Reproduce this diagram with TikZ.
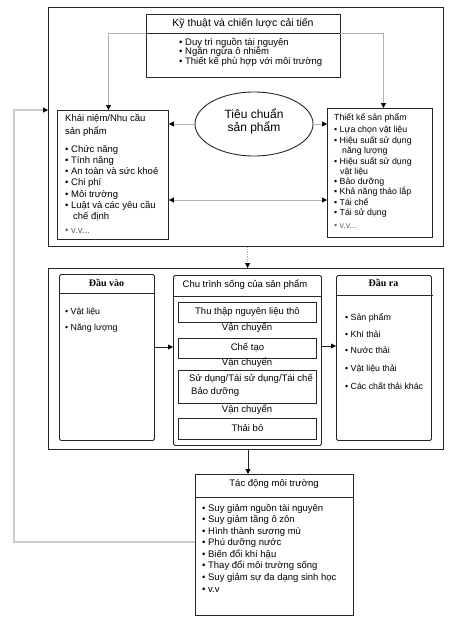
\documentclass[tikz,border=0pt]{standalone}
\usepackage{fontspec}
\setmainfont{Liberation Sans}
\newfontfamily\tnr{Liberation Serif}
\usetikzlibrary{arrows.meta,shapes.geometric}
\begin{document}
\begin{tikzpicture}[x=1pt,y=-1pt,
  outer/.style={draw=black!85, line width=1.2pt, inner sep=0, anchor=north west},
  box/.style={draw=black!85, line width=0.9pt, inner sep=0, anchor=north west},
  rbox/.style={box, rounded corners=1.5pt},
  sep/.style={draw=black!85, line width=0.9pt},
  item/.style={inner sep=0, anchor=west, text height=7pt, text depth=2pt, font=\fontsize{9.5}{11}\selectfont},
  itemS/.style={item, font=\fontsize{8.8}{10}\selectfont},
  ctext/.style={item, anchor=center},
  conn/.style={draw=black!30, line width=0.7pt},
  tip/.style={-{Triangle[length=5pt,width=5pt,color=black]}},
  tips/.style={{Triangle[length=5pt,width=5pt,color=black]}-{Triangle[length=5pt,width=5pt,color=black]}},
]
\useasboundingbox (0,0) rectangle (453,626);

% ---------- upper frame ----------
\node[outer, minimum width=395pt, minimum height=239pt] (OA) at (48,7) {};
\node[box, minimum width=194pt, minimum height=63pt] (K) at (146,14) {};
\draw[sep] (146,33) -- (340,33);
\node[ctext, font=\fontsize{10.5}{12}\selectfont] (Kt) at (243,24) {Kỹ thuật và chiến lược cải tiến};
\foreach \yy/\t [count=\i] in {43/Duy trì nguồn tài nguyên, 52.5/Ngăn ngừa ô nhiễm, 62/Thiết kế phù hợp với môi trường}
  \node[item] (k\i) at (179,\yy) {• \t};

\node[box, minimum width=111pt, minimum height=129pt] (KN) at (57,110) {};
\node[item] (knt1) at (65,119) {Khái niệm/Nhu cầu};
\node[item] (knt2) at (65,132) {sản phẩm};
\foreach \yy/\t [count=\i] in {150/Chức năng, 161/Tính năng, 172/An toàn và sức khoẻ, 183/Chi phí, 195/Môi trường, 206/Luật và các yêu cầu}
  \node[item] (kn\i) at (65,\yy) {• \t};
\node[item] (kn7) at (73,217) {chế định};
\node[item, text=black!60] (kn8) at (65,231) {• v.v...};

\node[draw=black!85, line width=0.9pt, ellipse, minimum width=118pt, minimum height=64pt, inner sep=0] (E) at (254,124) {};
\node[ctext, font=\fontsize{12}{13}\selectfont] (Et1) at (254,116) {Tiêu chuẩn};
\node[ctext, font=\fontsize{12}{13}\selectfont] (Et2) at (254,129) {sản phẩm};

\node[box, minimum width=105pt, minimum height=129pt] (TK) at (327,108) {};
\node[itemS] (tkt) at (334,118) {Thiết kế sản phẩm};
\foreach \yy/\t [count=\i] in {130/Lựa chọn vật liệu, 141/Hiệu suất sử dụng, 162/Hiệu suất sử dụng, 182/Bảo dưỡng, 192/Khả năng tháo lắp, 203/Tái chế, 213/Tái sử dụng}
  \node[itemS] (tk\i) at (334,\yy) {• \t};
\node[itemS] (tkc1) at (342,151) {năng lượng};
\node[itemS] (tkc2) at (340,172) {vật liệu};
\node[itemS, text=black!60] (tkv) at (334,226) {• v.v...};

\coordinate (kl) at (146,33);
\coordinate (kr) at (340,33);
\draw[conn, tip] (kl) -| ([xshift=-4.5pt]KN.north);
\draw[conn, tip] (kr) -| ([xshift=3.5pt]TK.north);
\draw[conn, tip] (E.west) -- (E.west -| KN.east);
\draw[conn, tip] (E.east) -- (E.east -| TK.west);
\draw[conn, tips] (KN.east |- 0,200) -- (TK.west |- 0,200);

% ---------- middle frame ----------
\node[outer, minimum width=395pt, minimum height=181pt] (OB) at (48,268) {};
\draw[conn, densely dotted, tip] ([xshift=1.5pt]OA.south) -- ([xshift=1.5pt]OB.north);

\node[rbox, minimum width=95pt, minimum height=166pt] (DV) at (59,274) {};
\draw[sep] (59,293) -- (154,293);
\node[ctext, font=\tnr\bfseries\fontsize{10}{11}\selectfont] (DVt) at (106.5,284) {Đầu vào};
\node[itemS] (dv1) at (65,312) {• Vật liệu};
\node[itemS] (dv2) at (65,328) {• Năng lượng};

\node[rbox, minimum width=148pt, minimum height=170pt] (CT) at (173,275) {};
\draw[sep] (173,296) -- (321,296);
\node[ctext] (CTt) at (245,285) {Chu trình sống của sản phẩm};
\node[box, minimum width=138pt, minimum height=20pt] (S1) at (178,302) {};
\node[ctext] at (S1.center) (S1t) {Thu thập nguyên liệu thô};
\node[ctext] (v1) at (247,328) {Vận chuyển};
\node[box, minimum width=138pt, minimum height=20pt] (S2) at (178,338) {};
\node[ctext] at (S2.center) (S2t) {Chế tạo};
\node[ctext] (v2) at (247,363) {Vận chuyển};
\node[box, minimum width=138pt, minimum height=33pt] (S3) at (178,370) {};
\node[item] (S3a) at (189,379) {Sử dụng/Tái sử dụng/Tái chế};
\node[item] (S3b) at (191,392) {Bảo dưỡng};
\node[ctext] (v3) at (247,410) {Vận chuyển};
\node[box, minimum width=138pt, minimum height=21pt] (S4) at (178,418) {};
\node[ctext] at (S4.center) (S4t) {Thải bỏ};

\node[rbox, minimum width=95pt, minimum height=165pt] (DR) at (336,275) {};
\draw[sep] (336,295) -- (433,295);
\node[ctext, font=\tnr\bfseries\fontsize{10}{11}\selectfont] (DRt) at (383.5,284) {Đầu ra};
\foreach \yy/\t [count=\i] in {318/Sản phẩm, 335/Khí thải, 351/Nước thải, 369/Vật liệu thải, 387/Các chất thải khác}
  \node[itemS] (dr\i) at (345,\yy) {• \t};

\draw[black!85, line width=0.8pt, tip] (DV.east |- 0,347) -- (CT.west |- 0,347);
\draw[black!85, line width=0.8pt, tip] (CT.east |- 0,346) -- (DR.west |- 0,346);

% ---------- lower box ----------
\node[box, minimum width=158pt, minimum height=141pt] (TD) at (195,474) {};
\draw[sep] (195,497) -- (353,497);
\node[ctext] (TDt) at (274,484) {Tác động môi trường};
\foreach \yy/\t [count=\i] in {509/Suy giảm nguồn tài nguyên, 520/Suy giảm tầng ô zôn, 531.5/Hình thành sương mù, 543/Phú dưỡng nước, 554.5/Biến đổi khí hậu, 566/Thay đổi môi trường sống, 577.5/Suy giảm sự đa dạng sinh học, 590/v.v}
  \node[item] (td\i) at (202,\yy) {• \t};

\draw[black!85, line width=0.9pt, tip] (OB.south -| 248,0) -- (TD.north -| 248,0);

% ---------- feedback ----------
\coordinate (fb1) at (14,542);
\coordinate (fb2) at (14,110);
\draw[draw=black!20, line width=1.1pt, tip] (TD.west |- fb1) -- (fb1) -- (fb2) -- (OA.west |- fb2);
\end{tikzpicture}
\end{document}
